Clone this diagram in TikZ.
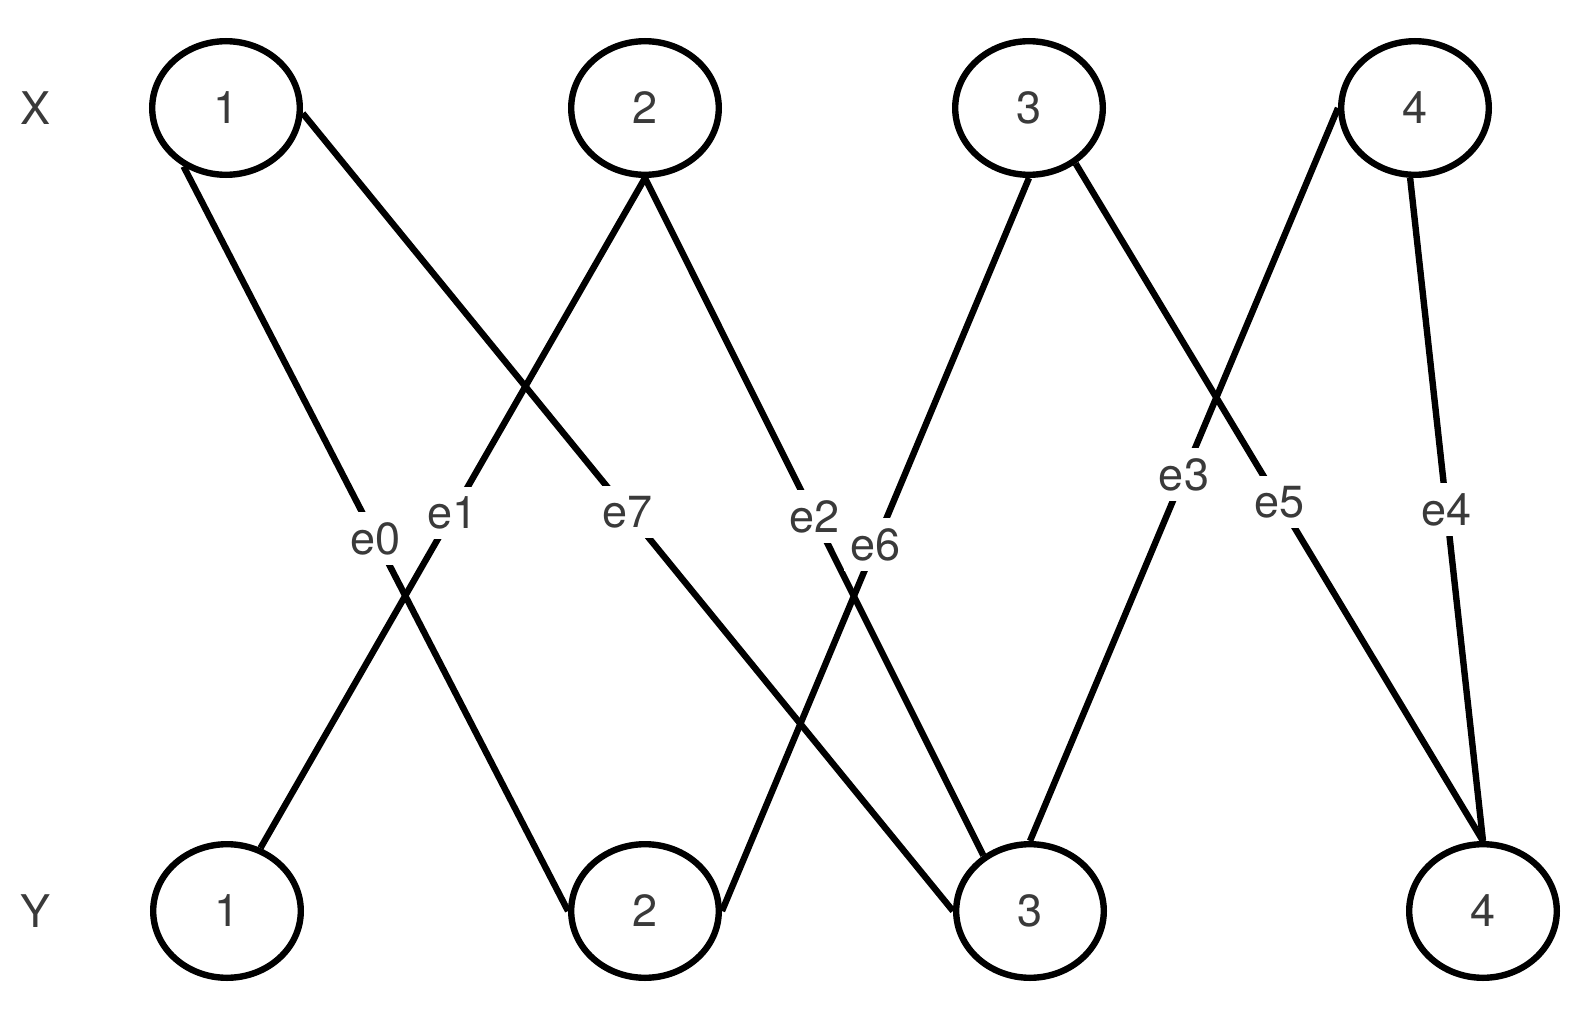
\documentclass[tikz,border=0pt]{standalone}
\usepackage{fontspec}
\setmainfont{TeX Gyre Heros}
\usetikzlibrary{shapes.geometric}
\definecolor{txt}{HTML}{3A3A3A}
\begin{document}
\begin{tikzpicture}[x=0.5pt,y=-0.5pt,
  vert/.style={ellipse,draw=black,line width=3.2pt,minimum width=73.8pt,minimum height=66.8pt,inner sep=0pt,text=txt,font=\fontsize{22.5}{26}\selectfont},
  side/.style={text=txt,font=\fontsize{22.5}{26}\selectfont},
  edge/.style={line width=3.2pt,black},
  elab/.style={midway,fill=white,text=txt,inner xsep=3pt,inner ysep=5pt,font=\fontsize{22.5}{26}\selectfont}]
\useasboundingbox[fill=white] (0,0) rectangle (1576,1012);
\node[side] (LX) at (36,108) {X};
\node[side] (LY) at (36,911) {Y};
\node[vert] (X1) at (226,108) {1};
\node[vert] (X2) at (645,108) {2};
\node[vert] (X3) at (1029,108) {3};
\node[vert] (X4) at (1415,108) {4};
\node[vert] (Y1) at (227,911) {1};
\node[vert] (Y2) at (645,911) {2};
\node[vert] (Y3) at (1030,911) {3};
\node[vert] (Y4) at (1483,911) {4};
\draw[edge] (X1.234) -- (Y2.west) node[elab] (l0) {e0};
\draw[edge] (X2.south) -- (Y1.62) node[elab] (l1) {e1};
\draw[edge] (X1.356) -- (Y3.west) node[elab] (l7) {e7};
\draw[edge] (X2.south) -- (Y3.130) node[elab] (l2) {e2};
\draw[edge] (X3.south) -- (Y2.east) node[elab] (l6) {e6};
\draw[edge] (X4.west) -- (Y3.north) node[elab] (l3) {e3};
\draw[edge] (X3.310) -- (Y4.north) node[elab] (l5) {e5};
\draw[edge] (X4.266) -- (Y4.north) node[elab] (l4) {e4};
\end{tikzpicture}
\end{document}
